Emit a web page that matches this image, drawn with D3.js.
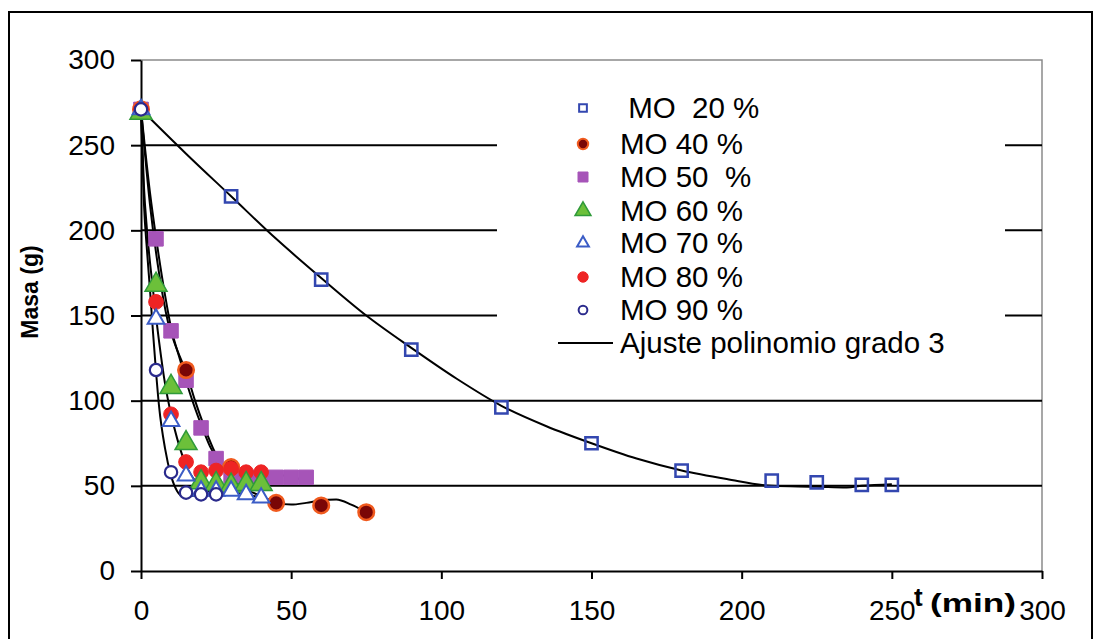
<!DOCTYPE html>
<html><head><meta charset="utf-8">
<script src="https://cdn.jsdelivr.net/npm/d3@7/dist/d3.min.js"></script>
<style>
html,body{margin:0;padding:0;background:#fff;}
svg{display:block;}
text{font-family:"Liberation Sans",Arial,sans-serif;}
</style></head>
<body>
<svg id="chart" width="1101" height="639"></svg>
<script>
// ---------- data (t in min, masa in g) ----------
const xTicks = [0, 50, 100, 150, 200, 250, 300];
const yTicks = [0, 50, 100, 150, 200, 250, 300];
const gridValues = [50, 100, 150, 200, 250];

const mo20 = [[0,271],[30,220],[60,171],[90,130],[120,96],[150,75],[180,59],[210,53],[225,52],[240,50.5],[250,50.5]];
const mo40 = [[0,271],[15,118],[30,61],[45,40],[60,38.5],[75,34.5]];
const mo50 = [[0,271],[5,195],[10,141],[15,112],[20,84],[25,66],[30,56],[35,55],[40,55],[45,55],[50,55],[55,55]];
const mo60 = [[0,269],[5,168],[10,108],[15,75],[20,52],[25,51],[30,50],[35,51],[40,51]];
const mo70 = [[0,271],[5,148],[10,88],[15,56],[20,47],[25,47],[30,47],[35,45],[40,43]];
const mo80 = [[0,271],[5,158],[10,92],[15,64],[20,58],[25,59],[30,60],[35,58],[40,58]];
const mo90 = [[0,271],[5,118],[10,58],[15,46],[20,45],[25,45]];

// fitted curves (polynomial degree 3)
const fit20 = [[0,271],[15,245],[30,220],[45,195],[60,172],[75,150],[90,131],[105,113],[120,97],[135,85],[150,75],[165,66],[180,59],[195,54],[210,50],[225,49.5],[235,49],[240,50],[250,51]];
const fit40 = [[0,271],[3,215],[6,175],[9,146],[12,130],[15,117],[18,100],[21,85],[24,72],[27,62],[30,55],[35,48],[40,44],[45,40],[50,39],[55,40],[60,41.5],[65,42],[70,39],[75,34.5]];
const fit50 = [[0,271],[3,222],[5,196],[8,162],[10,143],[13,124],[16,106],[20,86],[23,73],[26,64],[30,57],[35,55],[40,55],[45,56],[50,56],[54,52]];
const fit6070 = [[0,271],[1,225],[2,200],[4,165],[6,135],[8,110],[10,92],[12,78],[15,62],[18,53],[22,49],[26,48],[30,47],[35,45],[40,43],[45,41]];
const fit90 = [[0,271],[1,215],[2,188],[3,165],[4,140],[5,117],[6,97],[8,72],[10,56],[12,47],[14,44],[17,44],[20,46],[24,47],[28,46]];

const legendLabels = [" MO  20 %","MO 40 %","MO 50  %","MO 60 %","MO 70 %","MO 80 %","MO 90 %"];
const fitLabel = "Ajuste polinomio grado 3";
const yTitle = "Masa (g)";

// ---------- drawing ----------
const svg = d3.select("#chart");
svg.append("rect").attr("width",1101).attr("height",639).attr("fill","#fff");
// outer frame
svg.append("rect").attr("x",9).attr("y",12).attr("width",1083).attr("height",700)
  .attr("fill","none").attr("stroke","#000").attr("stroke-width",2);

const x = d3.scaleLinear().domain([0,300]).range([141,1042]);
const y = d3.scaleLinear().domain([0,300]).range([571,60]);

// plot border (top/right)
svg.append("path").attr("d",`M${x(0)},${y(300)}H${x(300)}V${y(0)}`)
  .attr("fill","none").attr("stroke","#8a8a8a").attr("stroke-width",1.5);

// gridlines
svg.append("g").selectAll("line").data(gridValues).join("line")
  .attr("x1",x(0)).attr("x2",x(300)).attr("y1",d=>y(d)).attr("y2",d=>y(d))
  .attr("stroke","#000").attr("stroke-width",2);

// axes
const fs = 28;
const gx = svg.append("g").attr("transform",`translate(0,${y(0)})`)
  .call(d3.axisBottom(x).tickValues(xTicks).tickSize(8).tickPadding(21).tickSizeOuter(0));
const gy = svg.append("g").attr("transform",`translate(${x(0)},0)`)
  .call(d3.axisLeft(y).tickValues(yTicks).tickSize(10).tickPadding(16).tickSizeOuter(0));
[gx,gy].forEach(g=>{
  g.select(".domain").attr("stroke","#000").attr("stroke-width",2);
  g.selectAll(".tick line").attr("stroke","#000").attr("stroke-width",2);
  g.selectAll(".tick text").attr("fill","#000").attr("font-size",fs)
    .attr("font-family","'Liberation Sans',Arial,sans-serif");
});

// fit curves
const line = d3.line().x(d=>x(d[0])).y(d=>y(d[1])).curve(d3.curveMonotoneX);
const fitsG = svg.append("g");
[fit20,fit40,fit50,fit6070,fit90].forEach(f=>{
  fitsG.append("path").attr("d",line(f)).attr("fill","none").attr("stroke","#000").attr("stroke-width",2);
});

// marker styles
const styles = [
  {sym:d3.symbolSquare, size:150, fill:"none", stroke:"#3347b0", sw:2.5},
  {sym:d3.symbolCircle, size:190, fill:"#7a0606", stroke:"#f05a1e", sw:2.5},
  {sym:d3.symbolSquare, size:210, fill:"#a654b8", stroke:"#a654b8", sw:1},
  {sym:d3.symbolTriangle, size:210, fill:"#6cc03a", stroke:"#2f9a3a", sw:1.5},
  {sym:d3.symbolTriangle, size:120, fill:"#fff", stroke:"#3b5cc6", sw:2},
  {sym:d3.symbolCircle, size:170, fill:"#ee2424", stroke:"#ee2424", sw:1},
  {sym:d3.symbolCircle, size:120, fill:"#fff", stroke:"#2a2a8c", sw:2.2}
];
const series = [mo20,mo40,mo50,mo60,mo70,mo80,mo90];
const drawOrder = [0,2,1,5,3,4,6];
drawOrder.forEach(i=>{
  const st = styles[i];
  svg.append("g").selectAll("path").data(series[i]).join("path")
    .attr("transform",d=>`translate(${x(d[0])},${y(d[1])})`)
    .attr("d",d3.symbol().type(st.sym).size(st.size)())
    .attr("fill",st.fill).attr("stroke",st.stroke).attr("stroke-width",st.sw);
});

// legend
const lfs = 29.5;
const lg = svg.append("g");
lg.append("rect").attr("x",497).attr("y",88).attr("width",508).attr("height",276).attr("fill","#fff");
const rowY = [108,144,177,211,243,277,310];
const legSizes = [60,85,100,110,60,85,60];
styles.forEach((st,i)=>{
  lg.append("path").attr("transform",`translate(583,${rowY[i]})`)
    .attr("d",d3.symbol().type(st.sym).size(legSizes[i])())
    .attr("fill",st.fill).attr("stroke",st.stroke).attr("stroke-width",Math.min(st.sw,2));
  lg.append("text").attr("x",620).attr("y",rowY[i]).attr("dy","0.35em")
    .attr("font-size",lfs).style("white-space","pre").text(legendLabels[i]);
});
lg.append("line").attr("x1",558).attr("x2",613).attr("y1",343).attr("y2",343).attr("stroke","#000").attr("stroke-width",2);
lg.append("text").attr("x",620).attr("y",343).attr("dy","0.35em").attr("font-size",lfs).text(fitLabel);

// axis titles
svg.append("text").attr("transform","translate(30,292) rotate(-90)").attr("text-anchor","middle")
  .attr("dy","0.35em").attr("font-size",23).attr("font-weight","bold").text(yTitle);
svg.append("text").attr("x",914).attr("y",606).attr("font-size",26).attr("font-weight","bold").text("t");
svg.append("text").attr("x",930).attr("y",612).attr("font-size",26).attr("font-weight","bold")
  .attr("textLength",86).attr("lengthAdjust","spacingAndGlyphs").text("(min)");
</script>
</body></html>
